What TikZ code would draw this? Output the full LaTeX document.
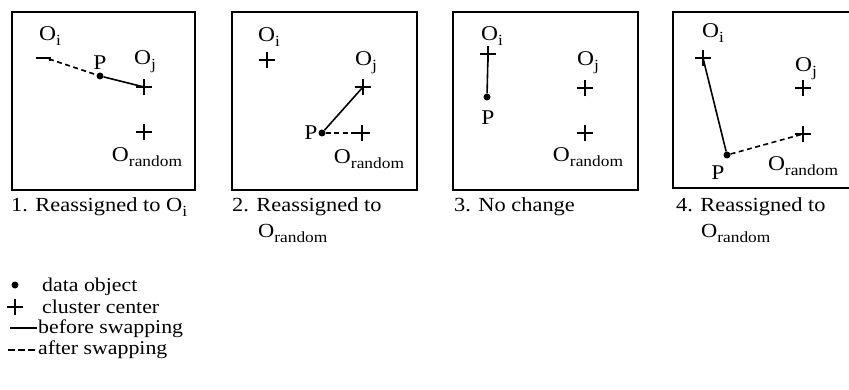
\documentclass[tikz,border=0pt]{standalone}
\usepackage{fontspec}
\setmainfont{Liberation Serif}[FakeStretch=1.12]
\usetikzlibrary{shapes.misc}
\newcommand\mysub[1]{\raisebox{-0.22em}{\fontsize{15.5}{15.5}\selectfont #1}}
\tikzset{
  frame/.style={draw, line width=2.6pt},
  ctr/.style={cross out, draw, rotate=45, minimum size=10.5pt, inner sep=0pt, line width=1.3pt},
  obj/.style={circle, fill, minimum size=7pt, inner sep=0pt},
  lbl/.style={inner sep=0pt, font=\fontsize{21}{24}\selectfont},
  captxt/.style={inner sep=0pt, anchor=base west, font=\fontsize{20}{23}\selectfont},
  legtxt/.style={inner sep=0pt, anchor=base west, font=\fontsize{19.5}{23}\selectfont},
  before/.style={line width=1.6pt},
  after/.style={line width=1.6pt, dash pattern=on 5pt off 3.5pt},
  legafter/.style={line width=1.6pt, dash pattern=on 6.5pt off 3.5pt},
}
\begin{document}
\begin{tikzpicture}[x=1pt,y=-1pt]
\useasboundingbox (0,0) rectangle (849,390);
\fill[white] (0,0) rectangle (849,390);
% frames
\draw[frame] (12,12) rectangle (195,190);
\draw[frame] (232,12) rectangle (417,190);
\draw[frame] (453,12) rectangle (638,190);
\draw[frame] (673,12) rectangle (856,188);
% panel 1
\node[lbl] (oi1l) at (50,36) {O\mysub{i}};
\draw[line width=1.3pt] (36,58) -- (50,58) -- (50,61);
\coordinate (oi1) at (49,59);
\node[obj] (p1) at (100,76) {};
\node[lbl] (p1l) at (100,63) {P};
\node[ctr] (oj1) at (144,87) {};
\node[lbl] (oj1l) at (145,62) {O\mysub{j}};
\node[ctr] (or1) at (144,132) {};
\node[lbl] (or1l) at (147,157) {O\mysub{random}};
\draw[after] (oi1) -- (p1);
\draw[before] (p1) -- (oj1.center);
% panel 2
\node[lbl] (oi2l) at (269,37) {O\mysub{i}};
\node[ctr] (oi2) at (267,60) {};
\node[ctr] (oj2) at (363,87) {};
\node[lbl] (oj2l) at (366,63) {O\mysub{j}};
\node[obj] (p2) at (322,133) {};
\node[lbl] (p2l) at (311,133) {P};
\node[ctr] (or2) at (362,133) {};
\node[lbl] (or2l) at (369,159) {O\mysub{random}};
\draw[before] (p2) -- (oj2.center);
\draw[after] (p2) -- (or2.center);
% panel 3
\node[lbl] (oi3l) at (492,36) {O\mysub{i}};
\node[ctr] (oi3) at (488,54) {};
\node[obj] (p3) at (487,97) {};
\node[lbl] (p3l) at (488,118) {P};
\node[ctr] (oj3) at (585,88) {};
\node[lbl] (oj3l) at (588,63) {O\mysub{j}};
\node[ctr] (or3) at (585,133) {};
\node[lbl] (or3l) at (588,157) {O\mysub{random}};
\draw[before] (oi3.center) -- (p3);
% panel 4
\node[lbl] (oi4l) at (713,33) {O\mysub{i}};
\node[ctr] (oi4) at (703,58) {};
\node[obj] (p4) at (727,155) {};
\node[lbl] (p4l) at (718,173) {P};
\node[ctr] (oj4) at (803,88) {};
\node[lbl] (oj4l) at (806,69) {O\mysub{j}};
\node[ctr] (or4) at (803,134) {};
\node[lbl] (or4l) at (803,166) {O\mysub{random}};
\draw[before] (oi4.center) -- (p4);
\draw[after] (p4) -- (or4.center);
% captions
\node[captxt] (c1) at (11,212) {1. Reassigned to O\mysub{i}};
\node[captxt] (c2) at (232,212) {2. Reassigned to};
\node[captxt] (c2b) at (258,238) {O\mysub{random}};
\node[captxt] (c3) at (454,212) {3. No change};
\node[captxt] (c4) at (676,212) {4. Reassigned to};
\node[captxt] (c4b) at (701,238) {O\mysub{random}};
% legend
\node[obj] (ld) at (15,285) {};
\node[legtxt] (ldt) at (42,291) {data object};
\node[ctr] (lc) at (15,307) {};
\node[legtxt] (lct) at (42,313) {cluster center};
\coordinate (lb1) at (10,328);
\coordinate (lb2) at (37,328);
\draw[before] (lb1) -- (lb2);
\node[legtxt] (lbt) at (38,333) {before swapping};
\coordinate (la1) at (8,350);
\coordinate (la2) at (35,350);
\draw[legafter] (la1) -- (la2);
\node[legtxt] (lat) at (38,354) {after swapping};
\end{tikzpicture}
\end{document}
